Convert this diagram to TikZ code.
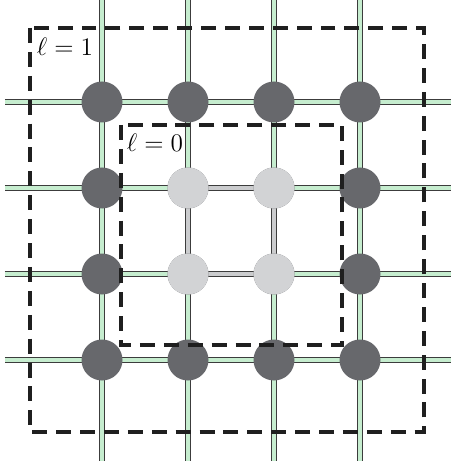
\documentclass[tikz,border=0pt]{standalone}
\usepackage{amsmath,amssymb}
\usepackage{tikz}
\usetikzlibrary{calc}
\usepackage{xcolor}
\definecolor{SiteDark}{HTML}{67686C}
\definecolor{SiteLight}{HTML}{D2D3D5}
\definecolor{BondGreen}{HTML}{C6EDCF}
\definecolor{BondGray}{HTML}{CBCCCE}
\definecolor{BondEdge}{HTML}{3C3C3C}

\tikzset{
  bond/.style={draw=BondEdge,line width=0.7pt,double=BondGreen,double distance=2pt},
  inner bond/.style={bond,double=BondGray},
  site/.style={circle,inner sep=0pt,minimum size=0.82cm},
  region/.style={draw=black!88,line width=2.2pt,dash pattern=on 8.5pt off 5.1pt}
}

\begin{document}
\begin{tikzpicture}
  \useasboundingbox (-2.04,2.04) rectangle (6.98,-7.26);
  % lattice points and loose ends
  \foreach \k in {0,...,3} {
    \foreach \j in {0,...,3}
      \coordinate (p-\k-\j) at (1.72*\k,-1.72*\j);
    \coordinate (l-\k) at (-1.94,-1.72*\k);
    \coordinate (r-\k) at (6.98,-1.72*\k);
    \coordinate (t-\k) at (1.72*\k,2.04);
    \coordinate (b-\k) at (1.72*\k,-7.18);
  }
  % bonds
  \foreach \k in {0,...,3} {
    \draw[bond] (l-\k) -- (r-\k);
    \draw[bond] (t-\k) -- (b-\k);
  }
  \draw[inner bond] (p-1-1) -- (p-2-1) -- (p-2-2) -- (p-1-2) -- cycle;
  % sites
  \foreach \k in {0,...,3}
    \foreach \j in {0,...,3}
      \node[site,fill=SiteDark] (s-\k-\j) at (p-\k-\j) {};
  \foreach \k in {1,2}
    \foreach \j in {1,2}
      \node[site,fill=SiteLight] (c-\k-\j) at (p-\k-\j) {};
  % regions
  \draw[region] (-1.44,1.48) rectangle (6.44,-6.6);
  \draw[region] (0.38,-0.46) rectangle (4.8,-4.86);
  \node (lev1) at (-0.74,1.1) {\Large$\ell=1$};
  \node (lev0) at (1.06,-0.82) {\Large$\ell=0$};
\end{tikzpicture}
\end{document}
